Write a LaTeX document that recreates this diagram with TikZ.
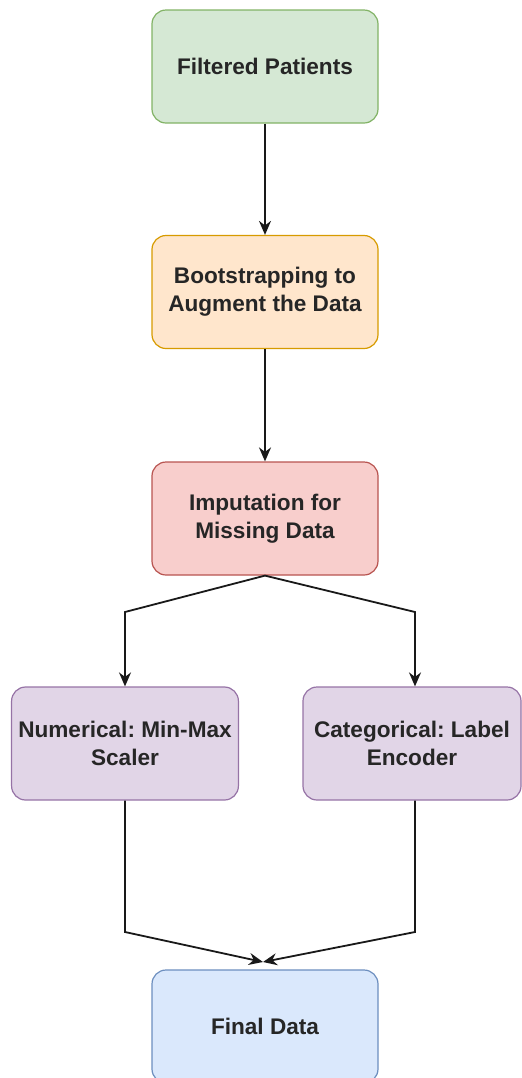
\documentclass[tikz,border=0pt]{standalone}
\usepackage{fontspec}
\setmainfont{Liberation Sans}
\usetikzlibrary{positioning,arrows.meta}
\frenchspacing

\definecolor{gfill}{HTML}{D5E8D4}\definecolor{gdraw}{HTML}{82B366}
\definecolor{ofill}{HTML}{FFE6CC}\definecolor{odraw}{HTML}{D79B00}
\definecolor{rfill}{HTML}{F8CECC}\definecolor{rdraw}{HTML}{B85450}
\definecolor{pfill}{HTML}{E1D5E7}\definecolor{pdraw}{HTML}{9673A6}
\definecolor{bfill}{HTML}{DAE8FC}\definecolor{bdraw}{HTML}{6C8EBF}

\begin{document}
\begin{tikzpicture}[x=0.5pt, y=-0.5pt,
        box/.style={rectangle, rounded corners=7pt, line width=0.6pt, minimum width=113pt,
          minimum height=56.5pt, align=center, text=black!85,
          font=\fontsize{11.3}{14}\selectfont\bfseries},
        edge_style/.style={draw=black!90, line width=0.9pt, -{Stealth[length=7pt,width=6pt]}}]
        \useasboundingbox (0,0) rectangle (522,1078);
        \node[box, fill=gfill, draw=gdraw] (filt) at (265, 66.5) {Filtered Patients};
        \node[box, fill=ofill, draw=odraw] (boot) at (265, 292) {Bootstrapping to\\Augment the Data};
        \node[box, fill=rfill, draw=rdraw] (imp) at (265, 518.5) {Imputation for\\Missing Data};
        \node[box, fill=pfill, draw=pdraw] (num) at (125, 743.5) {Numerical: Min-Max\\Scaler};
        \node[box, fill=pfill, draw=pdraw, minimum width=109pt] (cat) at (412, 743.5) {Categorical: Label\\Encoder};
        \node[box, fill=bfill, draw=bdraw] (final) at (265, 1026.5) {Final Data};
        \coordinate (lk) at (125, 612);
        \coordinate (rk) at (415, 612);
        \coordinate (lb) at (125, 932);
        \coordinate (rb) at (415, 932);
        \coordinate (merge) at (263, 962);
        \draw[edge_style] (filt) -- (boot);
        \draw[edge_style] (boot) -- (imp);
        \draw[edge_style] (imp.south) -- (lk) -- (lk |- num.north);
        \draw[edge_style] (imp.south) -- (rk) -- (rk |- cat.north);
        \draw[edge_style] (num.south) -- (lb) -- (merge);
        \draw[edge_style] (rk |- cat.south) -- (rb) -- (merge);
      \end{tikzpicture}
\end{document}
